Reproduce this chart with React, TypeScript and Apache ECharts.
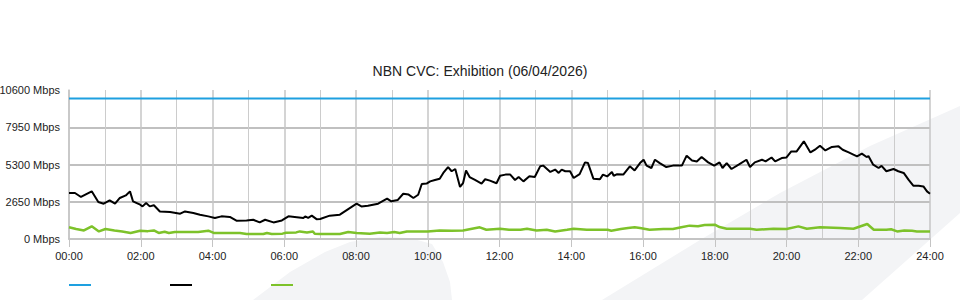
import React, { useEffect, useRef } from "react";
import * as echarts from "echarts";

const titleText = "NBN CVC: Exhibition (06/04/2026)";
const seriesNames = ["Capacity", "Inbound", "Outbound"];
const seriesColors = ["#1ea0e0", "#000000", "#7dc22a"];

const yMax = 10600;
const yStep = 2650;

const capacityMinutes = [0, 1440];
const capacityValues = [10000, 10000];

const inboundMinutes = [
  0, 10, 20, 38, 49, 58, 68, 77, 85, 95, 102, 107, 119, 123, 129, 135, 142, 152, 169, 186,
  194, 208, 219, 233, 244, 255, 269, 280, 297, 308, 319, 328, 342, 356, 367, 381, 392, 395, 400, 406,
  414, 420, 436, 453, 467, 481, 489, 500, 517, 532, 539, 550, 559, 568, 576, 584, 590, 598, 604, 612,
  620, 626, 634, 640, 646, 654, 659, 664, 670, 679, 690, 696, 704, 715, 721, 730, 738, 746, 752, 760,
  770, 779, 788, 793, 805, 813, 819, 824, 830, 838, 844, 854, 863, 868, 877, 888, 893, 900, 908, 911,
  916, 927, 938, 946, 955, 961, 966, 974, 980, 988, 999, 1010, 1025, 1033, 1042, 1050, 1058, 1069, 1079, 1088,
  1093, 1100, 1108, 1120, 1133, 1139, 1147, 1159, 1165, 1175, 1181, 1192, 1200, 1208, 1217, 1229, 1240, 1249, 1256, 1265,
  1276, 1287, 1294, 1304, 1318, 1326, 1334, 1337, 1345, 1354, 1359, 1367, 1379, 1387, 1396, 1404, 1412, 1421, 1429, 1435,
  1440,
];
const inboundValues = [
  3270, 3270, 2990, 3390, 2630, 2510, 2750, 2510, 2920, 3100, 3390, 2680, 2440, 2320, 2560, 2320, 2400, 1960, 1920, 1800,
  1960, 1850, 1730, 1610, 1490, 1610, 1570, 1300, 1320, 1370, 1180, 1370, 1180, 1320, 1610, 1550, 1490, 1610, 1500, 1660,
  1410, 1420, 1660, 1730, 2130, 2510, 2320, 2360, 2510, 2870, 2680, 2780, 3220, 3160, 2920, 3150, 3910, 3940, 4100, 4200,
  4290, 4700, 5120, 4820, 4980, 3700, 3970, 4880, 4410, 4200, 3940, 4250, 4150, 3970, 4500, 4580, 4580, 4200, 4410, 4100,
  4460, 4410, 5170, 5220, 4770, 4940, 4700, 4940, 4820, 4820, 4340, 4620, 5450, 5400, 4290, 4250, 4580, 4450, 4770, 4500,
  4600, 4580, 5170, 4880, 5400, 5640, 5220, 5050, 5640, 5400, 5120, 5220, 5220, 5930, 5590, 5520, 5830, 5450, 5220, 5450,
  5050, 5400, 4980, 5290, 5640, 5120, 5450, 5640, 5520, 5800, 5520, 5760, 5800, 6230, 6230, 6950, 6160, 6400, 6640, 6300,
  6550, 6590, 6350, 6160, 5880, 6070, 5830, 5900, 5290, 5050, 5200, 4820, 4980, 4820, 4700, 4220, 3790, 3790, 3740, 3390,
  3220,
];

const outboundMinutes = [
  0, 12, 25, 38, 50, 61, 76, 89, 103, 119, 132, 142, 150, 160, 167, 177, 216, 233, 242, 286,
  297, 325, 331, 339, 357, 363, 380, 386, 398, 408, 411, 420, 453, 467, 481, 503, 520, 532, 544, 553,
  565, 600, 620, 640, 659, 687, 698, 721, 736, 755, 766, 782, 799, 813, 833, 844, 866, 880, 901, 907,
  923, 935, 946, 955, 971, 994, 1010, 1024, 1038, 1052, 1063, 1080, 1088, 1100, 1139, 1150, 1178, 1200, 1220, 1234,
  1256, 1290, 1312, 1335, 1346, 1367, 1375, 1385, 1397, 1410, 1418, 1440,
];
const outboundValues = [
  830, 710, 610, 900, 540, 710, 610, 540, 430, 590, 560, 610, 430, 520, 430, 500, 500, 590, 430, 430,
  360, 360, 430, 360, 380, 450, 470, 540, 470, 540, 380, 360, 360, 500, 430, 380, 470, 430, 500, 430,
  540, 540, 610, 580, 610, 830, 660, 730, 660, 660, 730, 610, 660, 540, 660, 730, 660, 660, 660, 590,
  710, 780, 830, 780, 660, 710, 710, 830, 950, 900, 990, 1020, 850, 730, 730, 660, 730, 710, 900, 730,
  830, 780, 730, 1070, 660, 660, 690, 540, 610, 580, 540, 540,
];

const zip = (xs: number[], ys: number[]) => xs.map((x, i) => [x, ys[i]]);

const FONT = "'Liberation Sans', Arial, sans-serif";

export default function App() {
  const ref = useRef<HTMLDivElement>(null);
  useEffect(() => {
    if (!ref.current) return;
    const chart = echarts.init(ref.current, undefined, { renderer: "svg" });
    const lineSeries = (idx: number, data: number[][], width: number) => ({
      name: seriesNames[idx],
      type: "line",
      data,
      showSymbol: false,
      symbol: "none",
      color: seriesColors[idx],
      lineStyle: { color: seriesColors[idx], width },
      z: 3 + idx,
    });
    chart.setOption({
      animation: false,
      backgroundColor: "#ffffff",
      textStyle: { fontFamily: FONT },
      title: {
        text: titleText,
        left: "center",
        top: 59,
        textStyle: { fontFamily: FONT, fontSize: 14, fontWeight: "normal", color: "#222" },
      },
      graphic: [
        {
          type: "polygon",
          z: -10,
          silent: true,
          shape: {
            points: [
              [253, 300], [290, 272], [325, 252], [350, 242], [380, 237], [410, 238], [432, 244],
              [443, 262], [450, 282], [452, 300],
            ],
          },
          style: { fill: "#f3f4f6" },
        },
        {
          type: "polygon",
          z: -10,
          silent: true,
          shape: {
            points: [[602, 300], [700, 240], [780, 193], [870, 146], [960, 106], [960, 213], [862, 300]],
          },
          style: { fill: "#f3f4f6" },
        },
      ],
      legend: {
        left: 64,
        top: 279,
        icon: "rect",
        itemWidth: 22,
        itemHeight: 2,
        itemGap: 79,
        formatter: () => "",
        selectedMode: false,
        data: seriesNames,
      },
      grid: {
        left: 69,
        right: 30,
        top: 90,
        bottom: 61,
        containLabel: false,
        outerBoundsMode: "none",
      },
      xAxis: {
        type: "value",
        min: 0,
        max: 1440,
        interval: 120,
        axisLine: { show: true, lineStyle: { color: "#c4c4c4", width: 2 } },
        axisTick: { show: true, length: 8, lineStyle: { color: "#c4c4c4" } },
        axisLabel: {
          fontSize: 11,
          color: "#222",
          margin: 11,
          fontFamily: FONT,
          formatter: (v: number) => String(v / 60).padStart(2, "0") + ":00",
        },
        splitLine: { show: true, lineStyle: { color: "#c6c6c6", width: 1.5 } },
        minorTick: { show: false, splitNumber: 2 },
        minorSplitLine: { show: true, lineStyle: { color: "#cccccc", width: 1 } },
      },
      yAxis: {
        type: "value",
        min: 0,
        max: yMax,
        interval: yStep,
        axisLine: { show: true, lineStyle: { color: "#c6c6c6", width: 1.5 } },
        axisTick: { show: false },
        axisLabel: {
          fontSize: 11,
          color: "#222",
          margin: 9,
          fontFamily: FONT,
          padding: [0, 0, 4, 0],
          formatter: (v: number) => v + " Mbps",
        },
        splitLine: { show: true, showMaxLine: false, lineStyle: { color: "#c0c0c0", width: 2 } },
      },
      series: [
        lineSeries(0, zip(capacityMinutes, capacityValues), 2),
        lineSeries(1, zip(inboundMinutes, inboundValues), 2),
        lineSeries(2, zip(outboundMinutes, outboundValues), 2.5),
      ],
    });
    return () => chart.dispose();
  }, []);
  return (
    <div
      ref={ref}
      style={{ position: "absolute", left: 0, top: 0, width: 960, height: 300 }}
    />
  );
}
